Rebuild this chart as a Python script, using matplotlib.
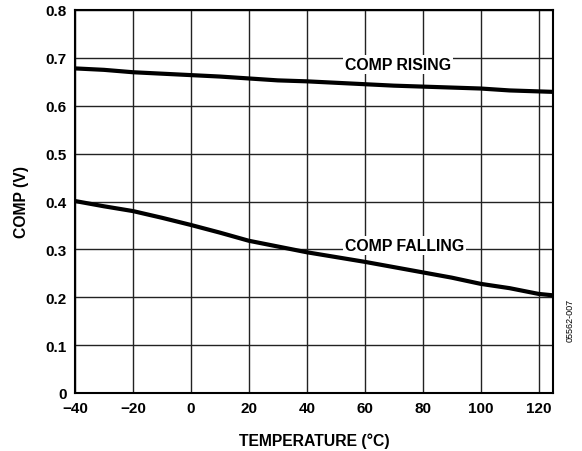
import numpy as np
import matplotlib
matplotlib.use("Agg")
import matplotlib.pyplot as plt

plt.rcParams['font.family'] = ['Liberation Sans', 'DejaVu Sans']
plt.rcParams['font.weight'] = 'bold'

temp = [-40, -30, -20, -10, 0, 10, 20, 30, 40, 50, 60, 70, 80, 90, 100, 110, 120, 125]
comp_rising = [0.678, 0.675, 0.670, 0.667, 0.664, 0.661, 0.657, 0.653, 0.651, 0.648, 0.645, 0.642, 0.640, 0.638, 0.636, 0.632, 0.630, 0.629]
comp_falling = [0.401, 0.390, 0.380, 0.366, 0.351, 0.335, 0.318, 0.306, 0.294, 0.284, 0.274, 0.263, 0.252, 0.241, 0.228, 0.219, 0.207, 0.204]

xticks = [-40, -20, 0, 20, 40, 60, 80, 100, 120]
xticklabels = ['\u221240', '\u221220', '0', '20', '40', '60', '80', '100', '120']
yticks = [0, 0.1, 0.2, 0.3, 0.4, 0.5, 0.6, 0.7, 0.8]
yticklabels = ['0', '0.1', '0.2', '0.3', '0.4', '0.5', '0.6', '0.7', '0.8']

fig = plt.figure(figsize=(5.82, 4.52), dpi=100)
ax = fig.add_axes([75/582, 1 - 394/452, 478/582, 383/452])

ax.plot(temp, comp_rising, color='black', lw=3, solid_capstyle='butt', zorder=3)
ax.plot(temp, comp_falling, color='black', lw=3, solid_capstyle='butt', zorder=3)

ax.set_xlim(-40, 125)
ax.set_ylim(0, 0.8)
ax.set_xticks(xticks)
ax.set_xticklabels(xticklabels)
ax.set_yticks(yticks)
ax.set_yticklabels(yticklabels)
ax.tick_params(length=0, labelsize=11, pad=6)
for lab in ax.get_xticklabels() + ax.get_yticklabels():
    lab.set_fontweight('bold')
ax.grid(True, color='#222222', lw=1.0)
ax.set_axisbelow(True)
for sp in ax.spines.values():
    sp.set_linewidth(1.5)

# curve labels sit on the gridlines with a white patch behind them
ax.text(71.5, 0.686, 'COMP RISING', fontsize=11.4, fontweight='bold', ha='center', va='center',
        bbox=dict(facecolor='white', edgecolor='none', pad=1.5), zorder=4)
ax.text(73.7, 0.308, 'COMP FALLING', fontsize=11.4, fontweight='bold', ha='center', va='center',
        bbox=dict(facecolor='white', edgecolor='none', pad=1.5), zorder=4)

ax.set_xlabel('TEMPERATURE (\u00b0C)', fontsize=11.3, fontweight='bold', labelpad=12)
ax.set_ylabel('COMP (V)', fontsize=11.3, fontweight='bold', labelpad=12)

fig.text(570/582, 1 - 320/452, '05562-007', rotation=90, fontsize=6.5, fontweight='normal',
         ha='center', va='center')

fig.savefig('out.png', dpi=100)
